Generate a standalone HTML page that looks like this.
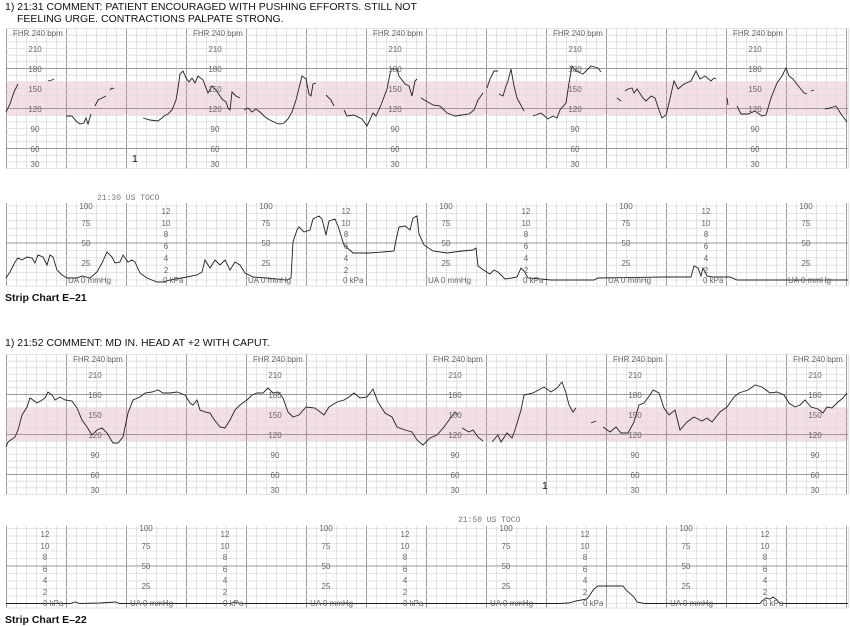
<!DOCTYPE html>
<html><head><meta charset="utf-8">
<style>
html,body{margin:0;padding:0;background:#fff;}
svg{display:block;}
.t{font-family:"Liberation Sans",Arial,sans-serif;font-size:10.5px;fill:#111;}
.b{font-family:"Liberation Sans",Arial,sans-serif;font-size:10.5px;font-weight:bold;fill:#111;}
.l{font-family:"Liberation Sans",Arial,sans-serif;font-size:8px;fill:#666;}
.lc{font-family:"Liberation Sans",Arial,sans-serif;font-size:8px;fill:#666;text-anchor:middle;}
.m{font-family:"Liberation Mono",monospace;font-size:8px;fill:#777;}
</style></head><body>
<svg id="s" width="850" height="626" viewBox="0 0 850 626" xmlns="http://www.w3.org/2000/svg">
<g id="grid"></g>
<g id="tr" fill="none" stroke="#222" stroke-width="0.9"></g>
<text class="t" x="5" y="10">1) 21:31 COMMENT: PATIENT ENCOURAGED WITH PUSHING EFFORTS. STILL NOT</text>
<text class="t" x="17" y="22">FEELING URGE. CONTRACTIONS PALPATE STRONG.</text>
<text class="b" x="5" y="301">Strip Chart E–21</text>
<text class="t" x="5" y="346">1) 21:52 COMMENT: MD IN. HEAD AT +2 WITH CAPUT.</text>
<text class="b" x="5" y="623">Strip Chart E–22</text>
<text class="m" x="97" y="200">21:30  US  TOCO</text>
<text class="m" x="458" y="522">21:50  US  TOCO</text>
<text class="t" x="132" y="162">1</text>
<text class="t" x="542" y="489">1</text>

<!-- chart 1 FHR labels -->
<g transform="translate(0,0)"><text class="l" x="13" y="36">FHR 240 bpm</text><text class="lc" x="35" y="52">210</text><text class="lc" x="35" y="72">180</text><text class="lc" x="35" y="92">150</text><text class="lc" x="35" y="112">120</text><text class="lc" x="35" y="132">90</text><text class="lc" x="35" y="152">60</text><text class="lc" x="35" y="167">30</text></g>
<g transform="translate(180,0)"><text class="l" x="13" y="36">FHR 240 bpm</text><text class="lc" x="35" y="52">210</text><text class="lc" x="35" y="72">180</text><text class="lc" x="35" y="92">150</text><text class="lc" x="35" y="112">120</text><text class="lc" x="35" y="132">90</text><text class="lc" x="35" y="152">60</text><text class="lc" x="35" y="167">30</text></g>
<g transform="translate(360,0)"><text class="l" x="13" y="36">FHR 240 bpm</text><text class="lc" x="35" y="52">210</text><text class="lc" x="35" y="72">180</text><text class="lc" x="35" y="92">150</text><text class="lc" x="35" y="112">120</text><text class="lc" x="35" y="132">90</text><text class="lc" x="35" y="152">60</text><text class="lc" x="35" y="167">30</text></g>
<g transform="translate(540,0)"><text class="l" x="13" y="36">FHR 240 bpm</text><text class="lc" x="35" y="52">210</text><text class="lc" x="35" y="72">180</text><text class="lc" x="35" y="92">150</text><text class="lc" x="35" y="112">120</text><text class="lc" x="35" y="132">90</text><text class="lc" x="35" y="152">60</text><text class="lc" x="35" y="167">30</text></g>
<g transform="translate(720,0)"><text class="l" x="13" y="36">FHR 240 bpm</text><text class="lc" x="35" y="52">210</text><text class="lc" x="35" y="72">180</text><text class="lc" x="35" y="92">150</text><text class="lc" x="35" y="112">120</text><text class="lc" x="35" y="132">90</text><text class="lc" x="35" y="152">60</text><text class="lc" x="35" y="167">30</text></g>

<!-- chart 2 FHR labels -->
<g transform="translate(60,326)"><text class="l" x="13" y="36">FHR 240 bpm</text><text class="lc" x="35" y="52">210</text><text class="lc" x="35" y="72">180</text><text class="lc" x="35" y="92">150</text><text class="lc" x="35" y="112">120</text><text class="lc" x="35" y="132">90</text><text class="lc" x="35" y="152">60</text><text class="lc" x="35" y="167">30</text></g>
<g transform="translate(240,326)"><text class="l" x="13" y="36">FHR 240 bpm</text><text class="lc" x="35" y="52">210</text><text class="lc" x="35" y="72">180</text><text class="lc" x="35" y="92">150</text><text class="lc" x="35" y="112">120</text><text class="lc" x="35" y="132">90</text><text class="lc" x="35" y="152">60</text><text class="lc" x="35" y="167">30</text></g>
<g transform="translate(420,326)"><text class="l" x="13" y="36">FHR 240 bpm</text><text class="lc" x="35" y="52">210</text><text class="lc" x="35" y="72">180</text><text class="lc" x="35" y="92">150</text><text class="lc" x="35" y="112">120</text><text class="lc" x="35" y="132">90</text><text class="lc" x="35" y="152">60</text><text class="lc" x="35" y="167">30</text></g>
<g transform="translate(600,326)"><text class="l" x="13" y="36">FHR 240 bpm</text><text class="lc" x="35" y="52">210</text><text class="lc" x="35" y="72">180</text><text class="lc" x="35" y="92">150</text><text class="lc" x="35" y="112">120</text><text class="lc" x="35" y="132">90</text><text class="lc" x="35" y="152">60</text><text class="lc" x="35" y="167">30</text></g>
<g transform="translate(780,326)"><text class="l" x="13" y="36">FHR 240 bpm</text><text class="lc" x="35" y="52">210</text><text class="lc" x="35" y="72">180</text><text class="lc" x="35" y="92">150</text><text class="lc" x="35" y="112">120</text><text class="lc" x="35" y="132">90</text><text class="lc" x="35" y="152">60</text><text class="lc" x="35" y="167">30</text></g>

<!-- chart 1 toco labels: mmHg groups (center x) -->
<g transform="translate(0,0)"><text class="lc" x="86" y="209">100</text><text class="lc" x="86" y="226">75</text><text class="lc" x="86" y="246">50</text><text class="lc" x="86" y="266">25</text><text class="l" x="68" y="283">UA 0  mmHg</text></g>
<g transform="translate(180,0)"><text class="lc" x="86" y="209">100</text><text class="lc" x="86" y="226">75</text><text class="lc" x="86" y="246">50</text><text class="lc" x="86" y="266">25</text><text class="l" x="68" y="283">UA 0  mmHg</text></g>
<g transform="translate(360,0)"><text class="lc" x="86" y="209">100</text><text class="lc" x="86" y="226">75</text><text class="lc" x="86" y="246">50</text><text class="lc" x="86" y="266">25</text><text class="l" x="68" y="283">UA 0  mmHg</text></g>
<g transform="translate(540,0)"><text class="lc" x="86" y="209">100</text><text class="lc" x="86" y="226">75</text><text class="lc" x="86" y="246">50</text><text class="lc" x="86" y="266">25</text><text class="l" x="68" y="283">UA 0  mmHg</text></g>
<g transform="translate(720,0)"><text class="lc" x="86" y="209">100</text><text class="lc" x="86" y="226">75</text><text class="lc" x="86" y="246">50</text><text class="lc" x="86" y="266">25</text><text class="l" x="68" y="283">UA 0  mmHg</text></g>
<!-- chart 1 kPa groups -->
<g transform="translate(0,0)"><text class="lc" x="166" y="214">12</text><text class="lc" x="166" y="226">10</text><text class="lc" x="166" y="237">8</text><text class="lc" x="166" y="249">6</text><text class="lc" x="166" y="261">4</text><text class="lc" x="166" y="273">2</text><text class="l" x="163" y="283">0 kPa</text></g>
<g transform="translate(180,0)"><text class="lc" x="166" y="214">12</text><text class="lc" x="166" y="226">10</text><text class="lc" x="166" y="237">8</text><text class="lc" x="166" y="249">6</text><text class="lc" x="166" y="261">4</text><text class="lc" x="166" y="273">2</text><text class="l" x="163" y="283">0 kPa</text></g>
<g transform="translate(360,0)"><text class="lc" x="166" y="214">12</text><text class="lc" x="166" y="226">10</text><text class="lc" x="166" y="237">8</text><text class="lc" x="166" y="249">6</text><text class="lc" x="166" y="261">4</text><text class="lc" x="166" y="273">2</text><text class="l" x="163" y="283">0 kPa</text></g>
<g transform="translate(540,0)"><text class="lc" x="166" y="214">12</text><text class="lc" x="166" y="226">10</text><text class="lc" x="166" y="237">8</text><text class="lc" x="166" y="249">6</text><text class="lc" x="166" y="261">4</text><text class="lc" x="166" y="273">2</text><text class="l" x="163" y="283">0 kPa</text></g>

<!-- chart 2 toco labels -->
<g transform="translate(0,0)"><text class="lc" x="146" y="531">100</text><text class="lc" x="146" y="549">75</text><text class="lc" x="146" y="569">50</text><text class="lc" x="146" y="589">25</text><text class="l" x="130" y="606">UA 0  mmHg</text></g>
<g transform="translate(180,0)"><text class="lc" x="146" y="531">100</text><text class="lc" x="146" y="549">75</text><text class="lc" x="146" y="569">50</text><text class="lc" x="146" y="589">25</text><text class="l" x="130" y="606">UA 0  mmHg</text></g>
<g transform="translate(360,0)"><text class="lc" x="146" y="531">100</text><text class="lc" x="146" y="549">75</text><text class="lc" x="146" y="569">50</text><text class="lc" x="146" y="589">25</text><text class="l" x="130" y="606">UA 0  mmHg</text></g>
<g transform="translate(540,0)"><text class="lc" x="146" y="531">100</text><text class="lc" x="146" y="549">75</text><text class="lc" x="146" y="569">50</text><text class="lc" x="146" y="589">25</text><text class="l" x="130" y="606">UA 0  mmHg</text></g>
<g transform="translate(0,0)"><text class="lc" x="45" y="537">12</text><text class="lc" x="45" y="549">10</text><text class="lc" x="45" y="560">8</text><text class="lc" x="45" y="572">6</text><text class="lc" x="45" y="583">4</text><text class="lc" x="45" y="595">2</text><text class="l" x="43" y="606">0 kPa</text></g>
<g transform="translate(180,0)"><text class="lc" x="45" y="537">12</text><text class="lc" x="45" y="549">10</text><text class="lc" x="45" y="560">8</text><text class="lc" x="45" y="572">6</text><text class="lc" x="45" y="583">4</text><text class="lc" x="45" y="595">2</text><text class="l" x="43" y="606">0 kPa</text></g>
<g transform="translate(360,0)"><text class="lc" x="45" y="537">12</text><text class="lc" x="45" y="549">10</text><text class="lc" x="45" y="560">8</text><text class="lc" x="45" y="572">6</text><text class="lc" x="45" y="583">4</text><text class="lc" x="45" y="595">2</text><text class="l" x="43" y="606">0 kPa</text></g>
<g transform="translate(540,0)"><text class="lc" x="45" y="537">12</text><text class="lc" x="45" y="549">10</text><text class="lc" x="45" y="560">8</text><text class="lc" x="45" y="572">6</text><text class="lc" x="45" y="583">4</text><text class="lc" x="45" y="595">2</text><text class="l" x="43" y="606">0 kPa</text></g>
<g transform="translate(720,0)"><text class="lc" x="45" y="537">12</text><text class="lc" x="45" y="549">10</text><text class="lc" x="45" y="560">8</text><text class="lc" x="45" y="572">6</text><text class="lc" x="45" y="583">4</text><text class="lc" x="45" y="595">2</text><text class="l" x="43" y="606">0 kPa</text></g>
</svg>
<script>
var NS="http://www.w3.org/2000/svg";
var G=document.getElementById("grid"),T=document.getElementById("tr");
function el(p,tag,a){var e=document.createElementNS(NS,tag);for(var k in a)e.setAttribute(k,a[k]);p.appendChild(e);return e;}
function ln(x1,y1,x2,y2,c,w){el(G,"line",{x1:x1,y1:y1,x2:x2,y2:y2,stroke:c,"stroke-width":w||1});}
function vgrid(top,bot){for(var x=6;x<=846;x+=10){var h=((x-6)%60==0);ln(x+0.5,top,x+0.5,bot,h?"#9a9a9a":"#dcdcdc",h?1:0.8);}ln(848.5,top,848.5,bot,"#dcdcdc",0.8);}
function fhr(y240){var top=y240,bot=y240+140;
 el(G,"rect",{x:6,y:y240+(80)*2/3,width:842,height:50*2/3,fill:"#f6dfe4"});
 vgrid(top,bot);
 for(var b=30;b<=240;b+=10){var y=y240+(240-b)*2/3;var h=(b==180||b==120||b==60);ln(6,y,848,y,h?"#9a9a9a":"#dcdcdc",h?1:0.8);}
}
function toco(y0,k,top,bot){vgrid(top,bot);for(var v=0;v<=100;v+=10){var y=y0-v*k;ln(6,y,848,y,v==50?"#9a9a9a":"#dcdcdc",v==50?1:0.8);}ln(6,bot,848,bot,"#dcdcdc",0.8);}
fhr(28.5);fhr(354.5);toco(280,0.74,203,286);toco(603.5,0.75,526,608);
function pl(s){el(T,"polyline",{points:s});}
// chart1 FHR
pl("6,112 10,104 14,92 18,84");pl("48,81 52,80 54,79");
pl("66,116 72,116 76,121 80,124 84,123 86,118 88,124 91,114");
pl("95,106 98,100 102,98 106,96");pl("110,90 112,88 114,89");
pl("143,118 150,120 158,121 162,118 164,116 168,114 172,110 176,100 178,88 180,74 183,71 186,78 189,82 192,78 195,83 198,76 203,80 208,93 212,86 216,90 222,99 226,102 228,108 230,110 232,92 236,96 240,98");
pl("244,110 248,108 252,112 256,109 260,112 264,116 268,119 272,121 276,123 280,124 284,123 288,119 292,112 296,100 302,76 306,79 309,94 311,96 313,84 316,83");
pl("326,95 331,100 334,106");
pl("344,110 347,116 354,115 362,119 367,126 373,113 376,116 381,105 387,89 391,69 397,69 399,76 405,84 409,86 412,96 415,81 417,79");
pl("421,98 426,101 433,105 440,106 447,113 455,116 462,115 469,114 474,110 478,100 483,93");
pl("487,88 490,79 494,71 498,71");
pl("499,94 503,96 506,86 508,81 511,69 514,86 517,98 524,111");
pl("533,116 541,113 548,119 553,116 557,118 560,110 566,103 569,83 572,66 576,71 583,74 591,66 598,68 601,72");
pl("617,98 621,101");
pl("625,91 628,89 632,88 634,93 637,89 643,98 646,101 651,96 655,98 659,110 662,118 666,115 669,103 674,81 678,89 684,84 691,81 696,71 700,79 705,76 711,81 714,78 716,79");
pl("727,98 728,105");
pl("737,106 741,114 748,114 755,111 762,116 766,115 771,98 777,83 782,76 786,68 789,76 793,79 796,83 800,88 804,93 807,94");
pl("811,91 814,90");pl("825,109 830,108 836,106 841,114 847,122");
// chart2 FHR
pl("6,447 8,442 15,437 18,430 22,415 27,407 30,398 33,400 37,403 42,400 45,398 48,392 52,395 55,400 60,397 65,400 72,401 77,408 82,420 87,427 92,435 97,430 102,428 107,433 113,443 118,443 123,437 128,413 133,400 140,397 145,393 152,392 158,390 163,393 170,393 177,392 185,395 190,403 193,405 197,400 200,410 205,412 210,413 213,418 220,427 225,428 230,420 235,410 240,405 247,400 252,395 257,393 263,393 268,388 273,393 278,392 283,398 288,412 293,417 299,415 306,407 315,408 324,415 329,407 337,402 344,400 349,397 354,393 360,398 367,397 373,389 378,402 385,413 392,417 397,427 405,430 412,432 417,440 423,445 430,438 437,435 444,427 449,420 455,412 458,415");
pl("462,428 469,432 473,430 478,437 483,441");
pl("492,442 498,435 501,442 507,433 512,438 515,430 521,410 524,395 533,393 544,387 551,392 557,388 562,382 566,393 569,405 573,412 576,408");
pl("591,423 596,421");
pl("603,427 610,432 616,427 621,433 628,433 634,422 639,405 644,403 650,395 653,390 659,393 664,408 669,415 675,410 680,430 687,422 694,417 702,421 707,418 712,422 720,412 727,407 734,397 739,393 748,390 755,385 762,387 770,393 777,392 784,395 789,403 795,407 800,405 805,400 811,407 818,409 823,413 827,407 832,408 838,402 843,398 847,393");
// chart1 toco
pl("6,278 10,272 15,262 18,258 22,260 27,257 32,258 35,263 38,255 43,257 47,265 50,255 53,257 57,270 62,275 67,278 77,278 82,276 90,278 97,272 102,263 107,252 112,257 115,263 120,262 123,255 128,262 132,260 135,262 140,273 147,278 157,282 163,282 170,280 187,277 197,275 202,272 205,260 210,268 215,260 220,265 225,260 230,270 235,262 240,265 245,273 253,277 267,278 287,280 291,278 293,242 297,230 299,227 304,232 310,230 313,219 319,216 322,219 326,235 329,221 335,219 338,226 344,245 353,253 369,253 383,252 394,251 396,240 399,227 405,226 410,230 413,218 417,216 419,234 424,245 433,251 447,253 462,251 473,250 476,248 478,266 485,271 490,274 494,270 498,272 505,279 512,278 517,277 521,268 524,271 528,278 541,279 551,280 594,280 598,278 666,277 691,277 694,266 698,268 701,276 703,268 707,276 712,277 730,277 737,280 848,280");
// chart2 toco
pl("6,603.5 70,603.5 75,602 80,603.5 100,603 115,602 120,603.5 230,603.5 235,602 240,603.5 560,603.5 569,603 576,601 587,599 594,589 598,586 623,586 626,590 634,597 637,602 644,603.5 760,603.5 762,601 766,598 770,599 773,597 777,600 780,603.5 848,603.5");
</script>
</body></html>
